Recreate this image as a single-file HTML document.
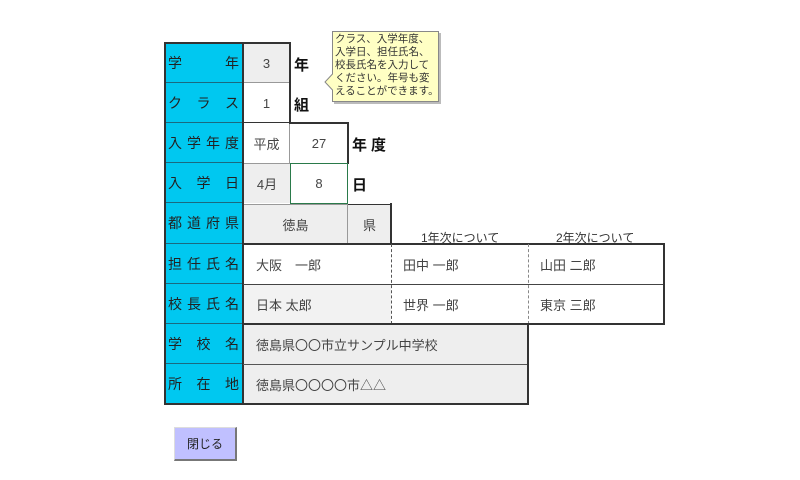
<!DOCTYPE html>
<html><head><meta charset="utf-8"><style>
body{margin:0;width:800px;height:480px;background:#fff;position:relative;overflow:hidden;font-family:"Liberation Sans","Noto Sans CJK JP",sans-serif;}
.c{position:absolute;box-sizing:border-box;font-size:13px;color:#444;display:flex;align-items:center;}
.b{background:#00c8f0;color:#222;justify-content:space-between;padding:0 4px 0 3px;font-size:14px;border-bottom:1px solid #1a6a80;}
.g{background:#eeeeee;}
.ctr{justify-content:center;}
.l{padding-left:12px;}
.t{position:absolute;font-size:15px;font-weight:bold;color:#111;}
.ln{position:absolute;background:#333;}
</style></head><body>
<!-- blue label column -->
<div class="c b" style="left:165px;top:43px;width:78px;height:40px"><span>学</span><span>年</span></div>
<div class="c b" style="left:165px;top:83px;width:78px;height:40px"><span>ク</span><span>ラ</span><span>ス</span></div>
<div class="c b" style="left:165px;top:123px;width:78px;height:40px"><span>入</span><span>学</span><span>年</span><span>度</span></div>
<div class="c b" style="left:165px;top:163px;width:78px;height:40px"><span>入</span><span>学</span><span>日</span></div>
<div class="c b" style="left:165px;top:203px;width:78px;height:41px"><span>都</span><span>道</span><span>府</span><span>県</span></div>
<div class="c b" style="left:165px;top:244px;width:78px;height:40px"><span>担</span><span>任</span><span>氏</span><span>名</span></div>
<div class="c b" style="left:165px;top:284px;width:78px;height:40px"><span>校</span><span>長</span><span>氏</span><span>名</span></div>
<div class="c b" style="left:165px;top:324px;width:78px;height:40px"><span>学</span><span>校</span><span>名</span></div>
<div class="c b" style="left:165px;top:364px;width:78px;height:40px"><span>所</span><span>在</span><span>地</span></div>
<div class="ln" style="left:164px;top:42px;width:2px;height:363px"></div>
<div class="ln" style="left:242px;top:42px;width:2px;height:363px"></div>
<div class="ln" style="left:164px;top:42px;width:126px;height:2px"></div>

<!-- value cells -->
<div class="c g ctr" style="left:244px;top:44px;width:45px;height:39px;border-bottom:1px solid #999">3</div>
<div class="c ctr" style="left:244px;top:84px;width:45px;height:39px">1</div>
<div class="ln" style="left:289px;top:42px;width:2px;height:82px"></div>
<div class="ln" style="left:244px;top:122px;width:104px;height:1px"></div>
<div class="ln" style="left:289px;top:122px;width:59px;height:2px"></div>
<div class="c ctr" style="left:244px;top:124px;width:46px;height:39px;border-right:1px solid #999">平成</div>
<div class="c ctr" style="left:290px;top:124px;width:58px;height:39px">27</div>
<div class="ln" style="left:347px;top:122px;width:2px;height:42px"></div>
<div class="c g ctr" style="left:244px;top:163px;width:46px;height:40px;border-top:1px solid #999">4月</div>
<div class="c ctr" style="left:290px;top:163px;width:58px;height:41px;border:1px solid #2a7a4a">8</div>
<div class="c g ctr" style="left:244px;top:204px;width:104px;height:40px;border-top:1px solid #999;border-right:1px solid #999">徳島</div>
<div class="c g ctr" style="left:348px;top:204px;width:43px;height:40px;border-top:1px solid #333">県</div>
<div class="ln" style="left:390px;top:203px;width:2px;height:42px"></div>

<div class="t" style="left:294px;top:54px">年</div>
<div class="t" style="left:294px;top:94px">組</div>
<div class="t" style="left:352px;top:134px;letter-spacing:4px">年度</div>
<div class="t" style="left:352px;top:174px">日</div>

<div style="position:absolute;left:421px;top:229px;font-size:12px;color:#333">1年次について</div>
<div style="position:absolute;left:556px;top:229px;font-size:12px;color:#333">2年次について</div>

<!-- teacher rows -->
<div class="ln" style="left:243px;top:243px;width:422px;height:2px"></div>
<div class="c l" style="left:244px;top:245px;width:147px;height:39px">大阪　一郎</div>
<div class="c l" style="left:391px;top:245px;width:137px;height:39px">田中 一郎</div>
<div class="c l" style="left:528px;top:245px;width:136px;height:39px">山田 二郎</div>
<div class="ln" style="left:243px;top:284px;width:422px;height:1px;background:#444"></div>
<div class="c l g" style="left:244px;top:285px;width:147px;height:39px;background:#f2f2f2">日本 太郎</div>
<div class="c l" style="left:391px;top:285px;width:137px;height:39px">世界 一郎</div>
<div class="c l" style="left:528px;top:285px;width:136px;height:39px">東京 三郎</div>
<div style="position:absolute;left:391px;top:244px;height:80px;border-left:1px dashed #555"></div>
<div style="position:absolute;left:528px;top:244px;height:80px;border-left:1px dashed #888"></div>
<div class="ln" style="left:663px;top:243px;width:2px;height:82px"></div>
<div class="ln" style="left:243px;top:323px;width:422px;height:2px"></div>

<!-- school rows -->
<div class="c l g" style="left:244px;top:325px;width:283px;height:39px">徳島県〇〇市立サンプル中学校</div>
<div class="ln" style="left:243px;top:364px;width:285px;height:1px;background:#555"></div>
<div class="c l g" style="left:244px;top:365px;width:283px;height:38px">徳島県〇〇〇〇市△△</div>
<div class="ln" style="left:527px;top:323px;width:2px;height:82px"></div>
<div class="ln" style="left:164px;top:403px;width:365px;height:2px"></div>

<!-- tooltip -->
<svg style="position:absolute;left:320px;top:28px" width="125" height="80">
<path d="M12.5 3.5 H118.5 V73.5 H12.5 V62 L5 54 L12.5 46 Z" fill="#ffffc4" stroke="#888" stroke-width="1"/>
<rect x="119" y="5" width="2" height="70" fill="#bbb"/><rect x="14" y="74" width="107" height="2" fill="#bbb"/>
</svg>
<div style="position:absolute;left:335px;top:33px;font-size:10.5px;line-height:13px;color:#333;white-space:nowrap">クラス、入学年度、<br>入学日、担任氏名、<br>校長氏名を入力して<br>ください。年号も変<br>えることができます。</div>

<!-- button -->
<div style="position:absolute;left:174px;top:427px;width:63px;height:34px;background:#c0c0ff;border:1px solid #ddd;border-right:2px solid #777;border-bottom:2px solid #777;box-sizing:border-box;display:flex;align-items:center;justify-content:center;font-size:12px;color:#222">閉じる</div>
</body></html>
